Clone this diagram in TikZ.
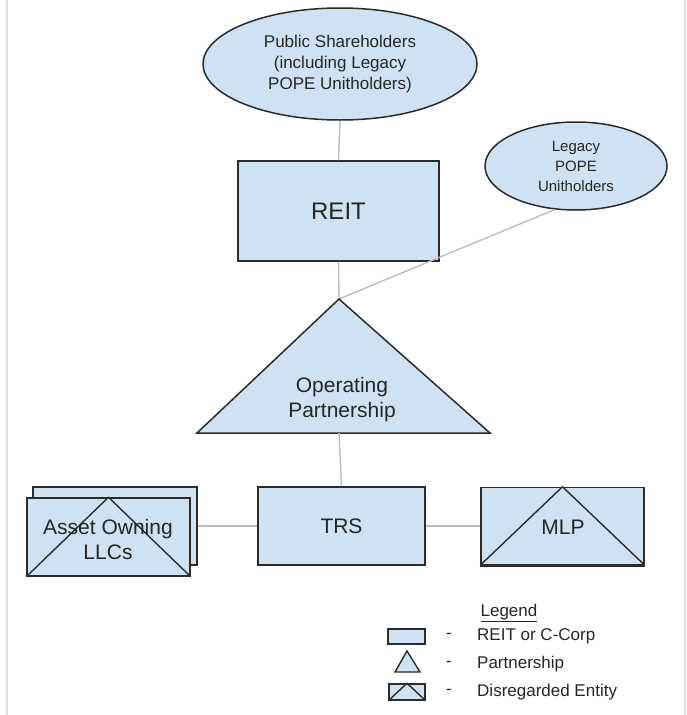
\documentclass[tikz,border=0pt]{standalone}
\usepackage{fontspec}
\setmainfont{Liberation Sans}
\usetikzlibrary{shapes.geometric}
\definecolor{boxfill}{HTML}{CFE2F3}
\definecolor{boxline}{HTML}{2B2B2B}
\definecolor{conn}{HTML}{BDBDBD}
\definecolor{txt}{HTML}{262626}
\definecolor{frame}{HTML}{DEDEDE}
\tikzset{
  entity/.style={draw=boxline, fill=boxfill, line width=1.5pt, inner sep=0pt, text=txt, align=center},
  rectbox/.style={entity, rectangle},
  ovalbox/.style={entity, ellipse},
  connector/.style={draw=conn, line width=1.4pt},
  lbl/.style={text=txt, inner sep=0pt, align=center},
  legtext/.style={text=txt, inner sep=0pt, anchor=west, font=\fontsize{17}{20}\selectfont},
}
\begin{document}
\begin{tikzpicture}[x=1pt, y=-1pt]
\useasboundingbox (0,0) rectangle (687,715);
% frame lines
\draw[frame, line width=2pt] (7,0) -- (7,715);
\draw[frame, line width=2pt] (685,0) -- (685,715);

% connectors first (behind shapes)
\coordinate (apex) at (339,299);
\coordinate (baseL) at (197,433);
\coordinate (baseR) at (490,433);
\coordinate (baseM) at (339,433);

\node[ovalbox, minimum width=274pt, minimum height=112pt, font=\fontsize{17}{21}\selectfont] (pub) at (340,64)
  {Public Shareholders\\(including Legacy\\POPE Unitholders)};
\node[rectbox, minimum width=201pt, minimum height=100pt, font=\fontsize{24}{28}\selectfont] (reit) at (338.5,211) {REIT};
\node[ovalbox, minimum width=182pt, minimum height=88pt, font=\fontsize{15}{20}\selectfont] (legacy) at (576,166)
  {Legacy\\POPE\\Unitholders};

\draw[connector] (pub.south) -- (reit.north);
\draw[connector] (reit.south) -- (apex);
\draw[connector] (legacy.244) -- (apex);

% Operating partnership triangle
\filldraw[draw=boxline, fill=boxfill, line width=1.5pt, line join=miter] (apex) -- (baseR) -- (baseL) -- cycle;
\node[lbl, font=\fontsize{21}{25}\selectfont] (op) at (342,400) {Operating\\Partnership};

% TRS
\node[rectbox, minimum width=167pt, minimum height=78pt, font=\fontsize{21}{25}\selectfont] (trs) at (341.5,526) {TRS};
\draw[connector] (baseM) -- (trs.north);

% Asset owning LLCs (stacked)
\node[rectbox, minimum width=164pt, minimum height=78pt] (llcback) at (115,526) {};
\node[rectbox, minimum width=163pt, minimum height=78pt] (llc) at (108.5,537) {};
\draw[boxline, line width=1.4pt] (llc.south west) -- (llc.north) -- (llc.south east);
\node[lbl, font=\fontsize{21}{25}\selectfont] (llctext) at (108,539) {Asset Owning\\LLCs};
\draw[connector] (llcback.east) -- (trs.west);

% MLP
\node[rectbox, minimum width=163pt, minimum height=77pt] (mlp) at (562.5,526) {};
\draw[boxline, line width=1.4pt] (mlp.south west) -- (mlp.north) -- (mlp.south east);
\draw[boxline, line width=3pt] (mlp.south west) -- (mlp.south east);
\node[lbl, font=\fontsize{21}{25}\selectfont] (mlptext) at (563,527) {MLP};
\draw[connector] (trs.east) -- (mlp.west);

% Legend
\node[lbl, font=\fontsize{17}{20}\selectfont] (legtitle) at (509,613) {\underline{Legend}};
\node[rectbox, minimum width=37pt, minimum height=15pt] (legrect) at (406.5,636.5) {};
\node[legtext] (dash1) at (446,636) {-};
\node[legtext] (t1) at (477,636) {REIT or C-Corp};

\coordinate (lapex) at (407,651);
\coordinate (lbl1) at (395,672);
\coordinate (lbr1) at (420,672);
\filldraw[draw=boxline, fill=boxfill, line width=1.4pt, line join=miter] (lapex) -- (lbr1) -- (lbl1) -- cycle;
\node[legtext] (dash2) at (446,664) {-};
\node[legtext] (t2) at (477,664) {Partnership};

\node[rectbox, minimum width=36pt, minimum height=16pt] (legdis) at (407,692) {};
\draw[boxline, line width=1.4pt] (legdis.south west) -- (legdis.north) -- (legdis.south east);
\node[legtext] (dash3) at (446,692) {-};
\node[legtext] (t3) at (477,692) {Disregarded Entity};
\end{tikzpicture}
\end{document}
